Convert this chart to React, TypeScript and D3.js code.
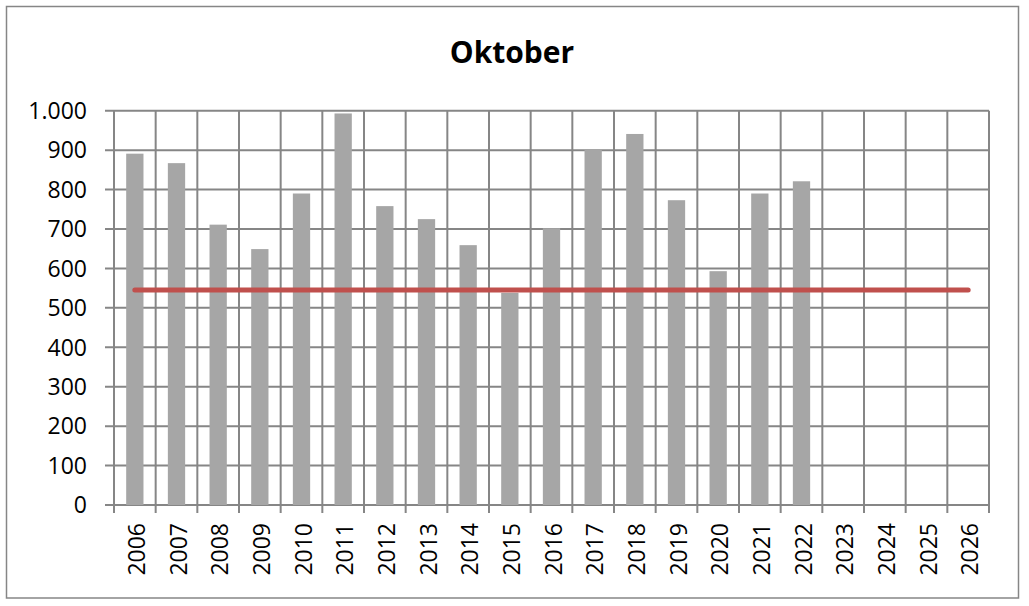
import React, { useEffect, useRef } from "react";
import * as d3 from "d3";

const years: string[] = [
  "2006", "2007", "2008", "2009", "2010", "2011", "2012", "2013", "2014", "2015", "2016",
  "2017", "2018", "2019", "2020", "2021", "2022", "2023", "2024", "2025", "2026",
];
const values: (number | null)[] = [
  891, 867, 711, 649, 790, 993, 758, 725, 659, 538, 702,
  902, 941, 773, 593, 790, 821, null, null, null, null,
];
const average: number[] = years.map(() => 545);
const yTicks: number[] = [0, 100, 200, 300, 400, 500, 600, 700, 800, 900, 1000];

const W = 1029;
const H = 606;
const FONT = "'Open Sans', 'Noto Sans', sans-serif";

const App = () => {
  const ref = useRef<SVGSVGElement>(null);

  useEffect(() => {
    const svg = d3.select(ref.current);
    svg.selectAll("*").remove();

    const left = 114;
    const right = 989;
    const top = 110.7;
    const bottom = 505;

    // chart border
    svg
      .append("rect")
      .attr("x", 6.5)
      .attr("y", 6.5)
      .attr("width", 1012)
      .attr("height", 591.5)
      .attr("fill", "#fff")
      .attr("stroke", "#868686")
      .attr("stroke-width", 1.5);

    svg
      .append("text")
      .attr("x", 512)
      .attr("y", 63)
      .attr("text-anchor", "middle")
      .style("font-family", FONT)
      .style("font-weight", "bold")
      .style("font-size", "30px")
      .text("Oktober");

    const x = d3.scaleBand().domain(years).range([left, right]).paddingInner(0).paddingOuter(0);
    const y = d3.scaleLinear().domain([0, 1000]).range([bottom, top]);

    const grid = svg.append("g").attr("stroke", "#868686").attr("stroke-width", 2);

    // horizontal gridlines
    grid
      .selectAll("line.h")
      .data(yTicks)
      .enter()
      .append("line")
      .attr("x1", left - 9)
      .attr("x2", right)
      .attr("y1", (d) => y(d))
      .attr("y2", (d) => y(d));

    // vertical gridlines at category boundaries
    const bounds = years.map((d) => x(d) as number).concat([right]);
    grid
      .selectAll("line.v")
      .data(bounds)
      .enter()
      .append("line")
      .attr("x1", (d) => d)
      .attr("x2", (d) => d)
      .attr("y1", top)
      .attr("y2", bottom + 8);

    // y labels
    svg
      .append("g")
      .selectAll("text")
      .data(yTicks)
      .enter()
      .append("text")
      .attr("x", 87)
      .attr("y", (d) => y(d))
      .attr("dy", "0.36em")
      .attr("text-anchor", "end")
      .style("font-family", FONT)
      .style("font-size", "23px")
      .attr("fill", "#000")
      .text((d) => d3.format(",")(d).replace(",", "."));

    // bars
    const bw = 17.3;
    svg
      .append("g")
      .selectAll("rect")
      .data(years.map((yr, i) => ({ yr, v: values[i] })).filter((d) => d.v !== null))
      .enter()
      .append("rect")
      .attr("x", (d) => (x(d.yr) as number) + x.bandwidth() / 2 - bw / 2)
      .attr("y", (d) => y(d.v as number))
      .attr("width", bw)
      .attr("height", (d) => bottom - y(d.v as number))
      .attr("fill", "#a6a6a6");

    // average line
    const line = d3
      .line<number>()
      .x((_, i) => (x(years[i]) as number) + x.bandwidth() / 2)
      .y((d) => y(d));
    svg
      .append("path")
      .datum(average)
      .attr("d", line)
      .attr("fill", "none")
      .attr("stroke", "#c0504d")
      .attr("stroke-width", 5)
      .attr("stroke-linecap", "round");

    // x labels
    svg
      .append("g")
      .selectAll("text")
      .data(years)
      .enter()
      .append("text")
      .attr(
        "transform",
        (d) => `translate(${(x(d) as number) + x.bandwidth() / 2 + 10},${523}) rotate(-90)`
      )
      .attr("text-anchor", "end")
      .style("font-family", FONT)
      .style("font-size", "23px")
      .attr("fill", "#000")
      .text((d) => d);
  }, []);

  return (
    <svg
      ref={ref}
      width={W}
      height={H}
      style={{ position: "absolute", left: 0, top: 0, background: "#fff" }}
    />
  );
};

export default App;
